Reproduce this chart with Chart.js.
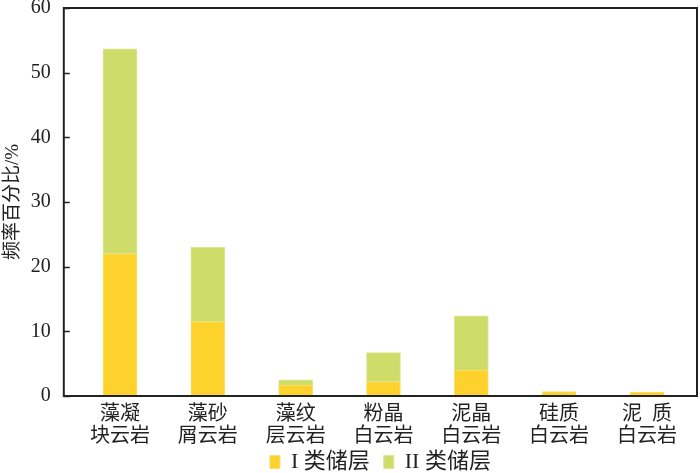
<!DOCTYPE html>
<html>
<head>
<meta charset="utf-8">
<script src="https://cdn.jsdelivr.net/npm/chart.js@4/dist/chart.umd.min.js"></script>
<style>
  html, body { margin: 0; padding: 0; background: #fff; }
  #wrap { width: 700px; height: 473px; }
</style>
</head>
<body>
<div id="wrap"><canvas id="chart" width="700" height="473"></canvas></div>
<script>
// categories (two lines each)
const categories = [
  ["藻凝", "块云岩"],
  ["藻砂", "屑云岩"],
  ["藻纹", "层云岩"],
  ["粉晶", "白云岩"],
  ["泥晶", "白云岩"],
  ["硅质", "白云岩"],
  ["泥  质", "白云岩"]
];
// series
const typeOne = [22, 11.5, 1.7, 2.2, 4.0, 0.7, 0.6];
const typeTwo = [31.7, 11.5, 0.8, 4.5, 8.4, 0, 0];
const yTicks = [0, 10, 20, 30, 40, 50, 60];

const fontFamily = "'Liberation Serif', 'Noto Sans CJK SC', serif";

// box around the plot + inward ticks on left axis
const frame = {
  id: "frame",
  afterDraw(chart) {
    const { ctx, chartArea } = chart;
    const y = chart.scales.y;
    ctx.save();
    ctx.strokeStyle = "#222";
    ctx.lineWidth = 2;
    ctx.strokeRect(chartArea.left, chartArea.top, chartArea.right - chartArea.left, chartArea.bottom - chartArea.top);
    ctx.lineWidth = 1.5;
    yTicks.forEach((t) => {
      const py = Math.round(y.getPixelForValue(t)) + 0.5;
      ctx.beginPath();
      ctx.moveTo(chartArea.left, py);
      ctx.lineTo(chartArea.left + 6, py);
      ctx.stroke();
    });
    ctx.restore();
  }
};

const ctx = document.getElementById("chart").getContext("2d");
new Chart(ctx, {
  type: "bar",
  data: {
    datasets: [
      {
        label: "I 类储层",
        data: typeOne.map((v, i) => ({ x: i, y: v })),
        backgroundColor: "#FDD22C",
        borderColor: "#FBE06A",
        borderWidth: 1,
        barThickness: 34
      },
      {
        label: "II 类储层",
        data: typeTwo.map((v, i) => ({ x: i, y: v })),
        backgroundColor: "#CEDC69",
        borderColor: "#DCE691",
        borderWidth: 1,
        barThickness: 34
      }
    ]
  },
  options: {
    responsive: false,
    animation: false,
    layout: { padding: { left: 1, right: 3, top: 8, bottom: -10 } },
    plugins: {
      tooltip: { enabled: false },
      legend: {
        position: "bottom",
        fullSize: false,
        labels: {
          color: "#222",
          font: { family: fontFamily, size: 22 },
          boxWidth: 10,
          boxHeight: 13,
          padding: 3,
          generateLabels: (chart) => {
            const items = Chart.defaults.plugins.legend.labels.generateLabels(chart);
            items[0].text = items[0].text + "  ";
            return items;
          }
        }
      }
    },
    scales: {
      x: {
        type: "linear",
        stacked: true,
        offset: false,
        min: -0.64,
        max: 6.57,
        grid: { display: false },
        border: { display: false },
        afterBuildTicks: (scale) => {
          scale.ticks = categories.map((c, i) => ({ value: i }));
        },
        ticks: {
          autoSkip: false,
          maxRotation: 0,
          color: "#222",
          padding: 0,
          font: { family: fontFamily, size: 20, lineHeight: 1.1 },
          callback: (value) => categories[value]
        }
      },
      y: {
        stacked: true,
        min: 0,
        max: 60,
        grid: { display: false },
        border: { display: false },
        afterBuildTicks: (scale) => {
          scale.ticks = yTicks.map((v) => ({ value: v }));
        },
        afterFit: (scale) => {
          scale.paddingTop = 0;
        },
        ticks: {
          color: "#222",
          padding: 5,
          font: { family: fontFamily, size: 20 }
        },
        title: {
          display: true,
          text: "频率百分比/%",
          color: "#222",
          padding: 1,
          font: { family: fontFamily, size: 19 }
        }
      }
    }
  },
  plugins: [frame]
});
</script>
</body>
</html>
